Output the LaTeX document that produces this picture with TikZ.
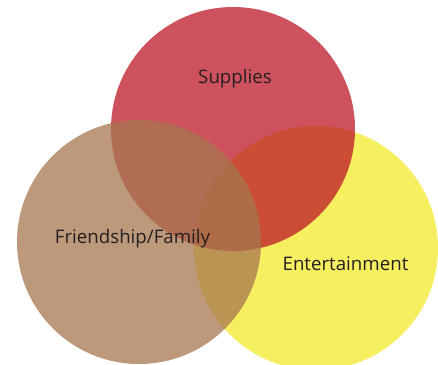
\documentclass[tikz,border=0pt]{standalone}
\usepackage{fontspec}
\setmainfont{Open Sans}
\definecolor{suppliesred}{RGB}{190,24,40}
\definecolor{entyellow}{RGB}{243,233,42}
\definecolor{familybrown}{RGB}{167,119,79}
\definecolor{labelgray}{RGB}{35,31,32}

\begin{document}
\begin{tikzpicture}[x=1pt,y=-1pt]
\tikzset{set/.style={circle, minimum size=244pt, inner sep=0pt, fill opacity=0.75},
	setlabel/.style={text=labelgray, font=\fontsize{18.7}{22}\selectfont}}
	\useasboundingbox (0,0) rectangle (438,364);
	\clip (0,0) rectangle (438,364);
	\node[set, fill=entyellow] (entertainment) at (316,248) {};
	\node[set, fill=suppliesred] (supplies) at (233,129) {};
	\node[set, fill=familybrown] (family) at (139,242) {};
	\node[setlabel] (supplieslabel) at (235,79) {Supplies};
	\node[setlabel] (familylabel) at (132.5,239) {Friendship/Family};
	\node[setlabel] (entlabel) at (345.5,264) {Entertainment};
\end{tikzpicture}
\end{document}
